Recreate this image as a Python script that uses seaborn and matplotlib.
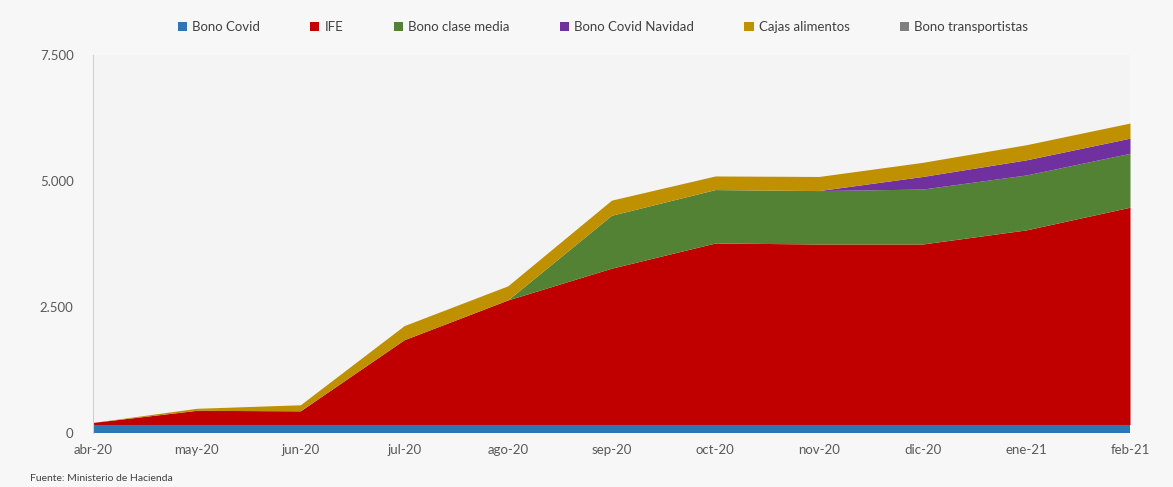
import matplotlib
matplotlib.use("Agg")
import matplotlib.pyplot as plt
import seaborn as sns
import numpy as np
from matplotlib.patches import Patch
from matplotlib.ticker import FuncFormatter

months = ["abr-20", "may-20", "jun-20", "jul-20", "ago-20", "sep-20",
          "oct-20", "nov-20", "dic-20", "ene-21", "feb-21"]
bono_covid = [170, 170, 170, 170, 170, 170, 170, 170, 170, 170, 170]
ife = [40, 280, 270, 1680, 2470, 3100, 3600, 3580, 3580, 3860, 4310]
bono_clase_media = [0, 0, 0, 0, 0, 1050, 1060, 1060, 1090, 1090, 1070]
bono_navidad = [0, 0, 0, 0, 0, 0, 0, 0, 250, 300, 300]
cajas = [0, 40, 120, 280, 280, 300, 270, 280, 280, 300, 300]
bono_transportistas = [0, 0, 0, 0, 0, 0, 0, 0, 0, 0, 0]
series_names = ["Bono Covid", "IFE", "Bono clase media", "Bono Covid Navidad",
                "Cajas alimentos", "Bono transportistas"]
colors = ["#2e75b6", "#c00000", "#548235", "#7030a0", "#bf9000", "#7f7f7f"]
yticks = [0, 2500, 5000, 7500]

sns.set_theme(style="white")
plt.rcParams['font.family'] = ['Lato', 'DejaVu Sans']

fig = plt.figure(figsize=(11.73, 4.87), dpi=100)
fig.patch.set_facecolor("#f7f7f7")
ax = fig.add_axes([93/1173, 1 - 433/487, (1130-93)/1173, (433-55)/487])
ax.set_facecolor("#f4f4f4")

x = np.arange(len(months))
ax.stackplot(x, bono_covid, ife, bono_clase_media, bono_navidad, cajas,
             bono_transportistas, colors=colors, linewidth=0)

ax.set_xlim(0, len(months) - 1)
ax.set_ylim(0, 7500)
ax.set_xticks(x)
ax.set_xticklabels(months, fontsize=9.5, color="#595959")
ax.set_yticks(yticks)
ax.yaxis.set_major_formatter(FuncFormatter(lambda v, p: f"{int(v):,}".replace(",", ".")))
ax.tick_params(axis="y", labelsize=9.5, labelcolor="#595959", length=0, pad=14)
ax.tick_params(axis="x", length=0, pad=8)
for s in ["top", "right", "bottom"]:
    ax.spines[s].set_visible(False)
ax.spines["left"].set_color("#d0d0d0")
ax.spines["left"].set_linewidth(0.8)

handles = [Patch(facecolor=c, edgecolor="none", label=n) for c, n in zip(colors, series_names)]
fig.legend(handles=handles, loc="center", bbox_to_anchor=(603/1173, 1 - 27/487), ncol=6,
           frameon=False, fontsize=9.5, handlelength=0.7, handleheight=0.7,
           handletextpad=0.4, columnspacing=3.8, labelcolor="#404040")

fig.text(30/1173, 4/487, "Fuente: Ministerio de Hacienda", fontsize=7.5, color="#404040",
         ha="left", va="bottom")

fig.savefig("out.png", dpi=100, facecolor=fig.get_facecolor())
